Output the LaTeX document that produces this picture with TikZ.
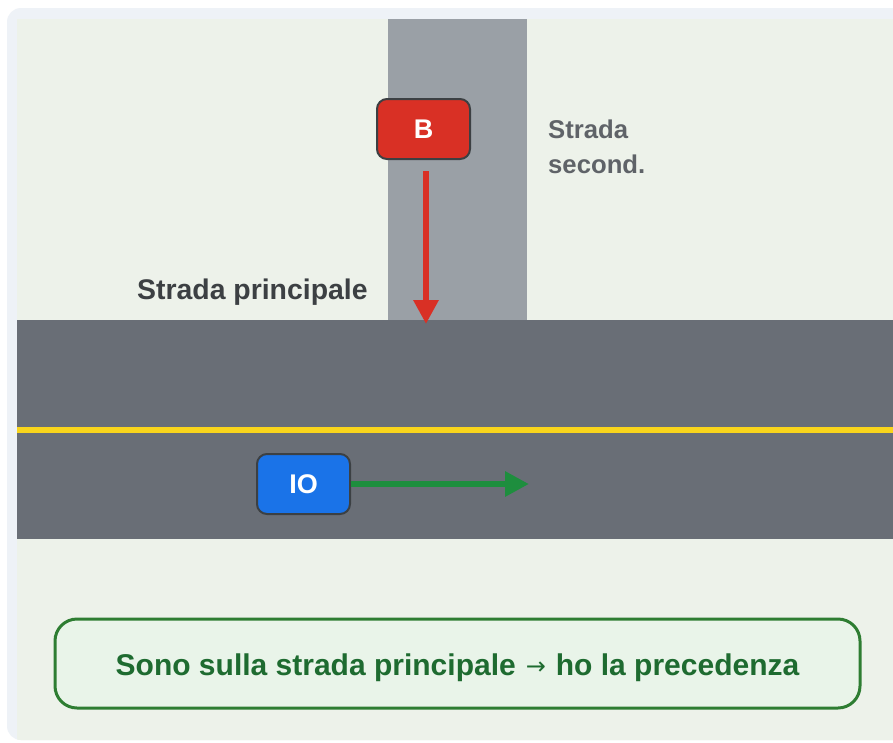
\documentclass[tikz,border=0pt]{standalone}
\usepackage{fontspec}
\setmainfont{Liberation Sans}
\newfontfamily\arrowfont{DejaVu Sans}
\usetikzlibrary{arrows.meta}
\definecolor{framebg}{HTML}{EEF2F7}
\definecolor{innerbg}{HTML}{EDF2EA}
\definecolor{sideroad}{HTML}{9AA0A6}
\definecolor{mainroad}{HTML}{696E76}
\definecolor{roadline}{HTML}{F9D51C}
\definecolor{bred}{HTML}{D93025}
\definecolor{ioblue}{HTML}{1A73E8}
\definecolor{boxedge}{HTML}{3C4043}
\definecolor{garrow}{HTML}{1E8E3E}
\definecolor{notefill}{HTML}{E9F4E9}
\definecolor{noteedge}{HTML}{2E7D32}
\definecolor{notetext}{HTML}{1E6B30}
\definecolor{labeldark}{HTML}{3C4043}
\definecolor{labelgray}{HTML}{5F6368}
\tikzset{
  car/.style={draw=boxedge, line width=2pt, rounded corners=10pt, minimum width=93pt, minimum height=60pt, inner sep=0pt, text=white, font=\fontsize{27}{30}\selectfont\bfseries},
  motion/.style={line width=6pt, -{Triangle[length=24pt,width=24pt]}},
  sidelabel/.style={font=\fontsize{25.7}{30}\selectfont\bfseries, inner sep=0pt, text=labelgray, anchor=base west},
}
\begin{document}
\begin{tikzpicture}[x=1pt,y=-1pt]
\useasboundingbox (0,0) rectangle (893,742);
\fill[white] (0,0) rectangle (893,742);
\fill[framebg, rounded corners=14pt] (7,8) rectangle (910,740);
\begin{scope}
  \clip[rounded corners=14pt] (7,8) rectangle (910,740);
  \fill[innerbg] (17,19) rectangle (910,742);
\end{scope}
% side road
\fill[sideroad] (388,19) rectangle (527,320);
% main road
\fill[mainroad] (17,320) rectangle (893,539);
\fill[roadline] (17,427) rectangle (893,433);
% labels
\node[font=\fontsize{28.4}{32}\selectfont\bfseries, inner sep=0pt, text=labeldark, anchor=base west] (mainlbl) at (137,299) {Strada principale};
\node[sidelabel] (sidelbl1) at (548,138) {Strada};
\node[sidelabel] (sidelbl2) at (548,173) {second.};
% vehicles
\node[car, fill=bred] (B) at (423.5,129) {B};
\node[car, fill=ioblue] (IO) at (303.5,484) {IO};
\coordinate (Bend) at (426,324);
\coordinate (IOend) at (529,484);
\draw[motion, draw=bred, fill=bred] (B.south -| Bend) ++(0,11) coordinate (Bstart) -- (Bend);
\draw[motion, draw=garrow, fill=garrow] (IO.east) -- (IOend);
% note
\node[draw=noteedge, fill=notefill, line width=3pt, rounded corners=22pt, minimum width=805pt, minimum height=89pt] (note) at (457.5,663.5) {};
\node[anchor=base, inner sep=0pt, text=notetext, font=\fontsize{30}{34}\selectfont\bfseries] (notetxt) at (457.5,675) {Sono sulla strada principale\hspace{10pt}\raisebox{1pt}{\arrowfont\mdseries\fontsize{24}{26}\selectfont →}\hspace{10pt}ho la precedenza};
\end{tikzpicture}
\end{document}
